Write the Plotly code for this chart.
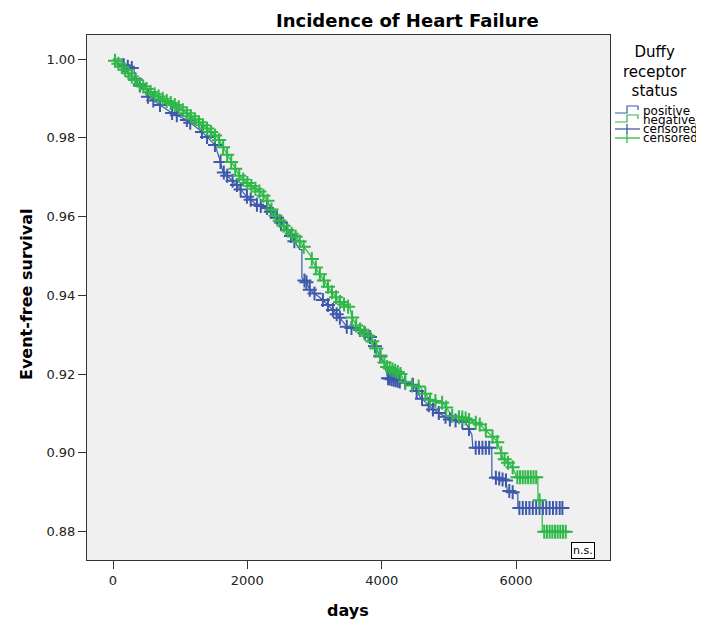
import numpy as np
import plotly.graph_objects as go

# ---------------- data ----------------
pos_days = [0, 150, 150, 312, 330, 520, 877, 1100, 1324, 1518, 1592, 1637, 1845, 1994,
            2143, 2292, 2441, 2590, 2782, 2812, 2812, 2886, 2931, 3125, 3274, 3378, 3482,
            3676, 3825, 3929, 4040, 4090, 4300, 4465, 4569, 4763, 5016, 5250, 5342, 5357,
            5640, 5640, 5850, 5870, 6027, 6027, 6696]
pos_surv = [1.000, 1.000, 0.9985, 0.9975, 0.9950, 0.9904, 0.9863, 0.9845, 0.9815, 0.9782,
            0.9744, 0.9714, 0.9680, 0.9650, 0.9630, 0.9622, 0.9597, 0.9566, 0.9516, 0.9516,
            0.9444, 0.9432, 0.9414, 0.9388, 0.9363, 0.9343, 0.9320, 0.9312, 0.9294, 0.9262,
            0.9225, 0.9190, 0.9180, 0.9173, 0.9143, 0.9110, 0.9085, 0.9077, 0.9047, 0.9013,
            0.9013, 0.8940, 0.8930, 0.8905, 0.8895, 0.8860, 0.8860]

neg_days = [0, 178, 371, 580, 773, 966, 1175, 1369, 1562, 1637, 1741, 1890, 2039, 2188,
            2292, 2381, 2590, 2738, 2931, 3036, 3229, 3378, 3527, 3557, 3631, 3825, 3929,
            4078, 4271, 4375, 4569, 4718, 4912, 5060, 5208, 5461, 5714, 5804, 5952, 6010,
            6326, 6326, 6390, 6390, 6756]
neg_surv = [1.000, 0.9973, 0.9940, 0.9914, 0.9896, 0.9879, 0.9853, 0.9828, 0.9800, 0.9777,
            0.9744, 0.9701, 0.9680, 0.9663, 0.9643, 0.9610, 0.9566, 0.9546, 0.9503, 0.9465,
            0.9414, 0.9383, 0.9368, 0.9345, 0.9320, 0.9294, 0.9262, 0.9218, 0.9203, 0.9173,
            0.9168, 0.9135, 0.9127, 0.9091, 0.9090, 0.9072, 0.9030, 0.8988, 0.8963, 0.8938,
            0.8938, 0.8880, 0.8880, 0.8800, 0.8800]

pos_censor = [160, 220, 280, 335, 400, 520, 600, 700, 880, 950, 1100, 1150, 1324, 1400,
              1518, 1600, 1650, 1700, 1780, 1845, 1900, 1994, 2050, 2143, 2200, 2292, 2350,
              2441, 2500, 2590, 2650, 2700, 2850, 2880, 2930, 3000, 3125, 3200, 3274, 3330,
              3378, 3480, 3550, 3676, 3750, 3825, 3900, 3980, 4095, 4120, 4150, 4180, 4210,
              4240, 4270, 4350, 4465, 4520, 4600, 4700, 4763, 4850, 4950, 5016, 5100, 5200,
              5300, 5400, 5450, 5500, 5550, 5600, 5700, 5750, 5800, 5850, 5900, 5950, 6050,
              6100, 6150, 6200, 6250, 6300, 6350, 6400, 6450, 6500, 6550, 6600, 6650, 6690]
neg_censor = [30, 80, 130, 180, 230, 280, 330, 400, 450, 500, 560, 620, 680, 740, 800, 860,
              920, 980, 1040, 1100, 1160, 1220, 1280, 1340, 1400, 1460, 1520, 1580, 1640,
              1700, 1760, 1820, 1880, 1940, 2000, 2060, 2120, 2180, 2240, 2300, 2360, 2420,
              2480, 2540, 2600, 2660, 2720, 2780, 2840, 2960, 3020, 3080, 3140, 3200, 3260,
              3320, 3380, 3440, 3500, 3560, 3620, 3680, 3740, 3800, 3860, 3920, 3980, 4040,
              4080, 4120, 4160, 4200, 4240, 4280, 4350, 4450, 4550, 4650, 4720, 4800, 4900,
              4960, 5050, 5150, 5200, 5250, 5300, 5400, 5460, 5550, 5650, 5720, 5780, 5830,
              5880, 5950, 6020, 6060, 6100, 6140, 6180, 6220, 6260, 6300, 6350, 6420, 6460,
              6500, 6540, 6580, 6620, 6660, 6700, 6740]

x_ticks = [0, 2000, 4000, 6000]
y_ticks = [0.88, 0.90, 0.92, 0.94, 0.96, 0.98, 1.00]
legend_labels = ["positive", "negative", "censored", "censored"]

BLUE = "#3E58AC"
GREEN = "#2EB848"

def surv_at(times, days, surv):
    return np.interp(np.asarray(times, float), np.asarray(days, float), np.asarray(surv, float))

fig = go.Figure()
fig.add_trace(go.Scatter(x=pos_days, y=pos_surv, mode="lines", line=dict(color=BLUE, width=1.2),
                         name="positive", showlegend=False))
fig.add_trace(go.Scatter(x=neg_days, y=neg_surv, mode="lines", line=dict(color=GREEN, width=1.2),
                         name="negative", showlegend=False))
fig.add_trace(go.Scatter(x=pos_censor, y=surv_at(pos_censor, pos_days, pos_surv), mode="markers",
                         marker=dict(symbol="cross-thin", size=10, line=dict(width=2, color=BLUE)),
                         name="censored", showlegend=False))
fig.add_trace(go.Scatter(x=neg_censor, y=surv_at(neg_censor, neg_days, neg_surv), mode="markers",
                         marker=dict(symbol="cross-thin", size=10, line=dict(width=2, color=GREEN)),
                         name="censored", showlegend=False))

# ---------------- layout ----------------
# the page body has an 8px margin, so the figure is drawn 8px smaller and offset
OFF = 8
W, H = 704 - OFF, 625 - OFF
PL, PR, PT, PB = 87, 610, 35, 560          # plot frame in window pixels
L, T = PL - OFF, PT - OFF
PW, PH = PR - PL, PB - PT
R, B = W - L - PW, H - T - PH

def px(xp):
    return (xp - PL) / PW

def py(yp):
    return (PB - yp) / PH

FONT = "DejaVu Sans"
annotations = [
    dict(text="<b>Incidence of Heart Failure</b>", x=px(407), y=py(20), xref="paper", yref="paper",
         xanchor="center", yanchor="middle", showarrow=False, font=dict(family=FONT, size=18, color="#000")),
    dict(text="<b>days</b>", x=px(348), y=py(610), xref="paper", yref="paper",
         xanchor="center", yanchor="middle", showarrow=False, font=dict(family=FONT, size=16, color="#000")),
    dict(text="<b>Event-free survival</b>", x=px(26), y=py(295), xref="paper", yref="paper",
         xanchor="center", yanchor="middle", textangle=-90, showarrow=False,
         font=dict(family=FONT, size=16, color="#000")),
    dict(text="Duffy<br>receptor<br>status", x=px(655), y=py(41), xref="paper", yref="paper",
         xanchor="center", yanchor="top", showarrow=False, align="center",
         font=dict(family=FONT, size=15, color="#000")),
    dict(text="n.s.", x=px(595), y=py(559), xref="paper", yref="paper", xanchor="right", yanchor="bottom",
         showarrow=False, font=dict(family=FONT, size=11, color="#000"), bordercolor="#000",
         borderwidth=1, borderpad=1, bgcolor="#FFFFFF"),
]
item_y = [111, 120, 129, 138]
for lab, yy in zip(legend_labels, item_y):
    annotations.append(dict(text=lab, x=px(641), y=py(yy), xref="paper", yref="paper",
                            xanchor="left", yanchor="middle", showarrow=False,
                            font=dict(family=FONT, size=12, color="#000")))

shapes = []
for col, yy in [(BLUE, item_y[0]), (GREEN, item_y[1])]:
    path = "M {} {} L {} {} L {} {} L {} {} L {} {}".format(
        px(615), py(yy + 2), px(627), py(yy + 2), px(627), py(yy - 5), px(638), py(yy - 5),
        px(638), py(yy - 1))
    shapes.append(dict(type="path", path=path, xref="paper", yref="paper",
                       line=dict(color=col, width=1.2)))
for col, yy in [(BLUE, item_y[2]), (GREEN, item_y[3])]:
    shapes.append(dict(type="line", xref="paper", yref="paper", x0=px(615), x1=px(640),
                       y0=py(yy), y1=py(yy), line=dict(color=col, width=1.3)))
    shapes.append(dict(type="line", xref="paper", yref="paper", x0=px(627), x1=px(627),
                       y0=py(yy - 5), y1=py(yy + 5), line=dict(color=col, width=1.3)))

fig.update_layout(
    width=W, height=H, margin=dict(l=L, r=R, t=T, b=B, pad=0),
    paper_bgcolor="#FFFFFF", plot_bgcolor="#F0F0F0",
    showlegend=False, annotations=annotations, shapes=shapes,
    font=dict(family=FONT, size=13, color="#222"),
)
fig.update_xaxes(range=[-387, 7399], tickvals=x_ticks, ticktext=[str(v) for v in x_ticks],
                 ticks="outside", ticklen=8, tickwidth=1, tickcolor="#333",
                 showline=True, linecolor="#333", linewidth=1, mirror=True,
                 showgrid=False, zeroline=False, tickfont=dict(family=FONT, size=13, color="#222"))
fig.update_yaxes(range=[0.8728, 1.0061], tickvals=y_ticks, ticktext=["%.2f" % v for v in y_ticks],
                 ticks="outside", ticklen=8, tickwidth=1, tickcolor="#333",
                 showline=True, linecolor="#333", linewidth=1, mirror=True,
                 showgrid=False, zeroline=False, tickfont=dict(family=FONT, size=13, color="#222"))

fig.write_html("out.html")
